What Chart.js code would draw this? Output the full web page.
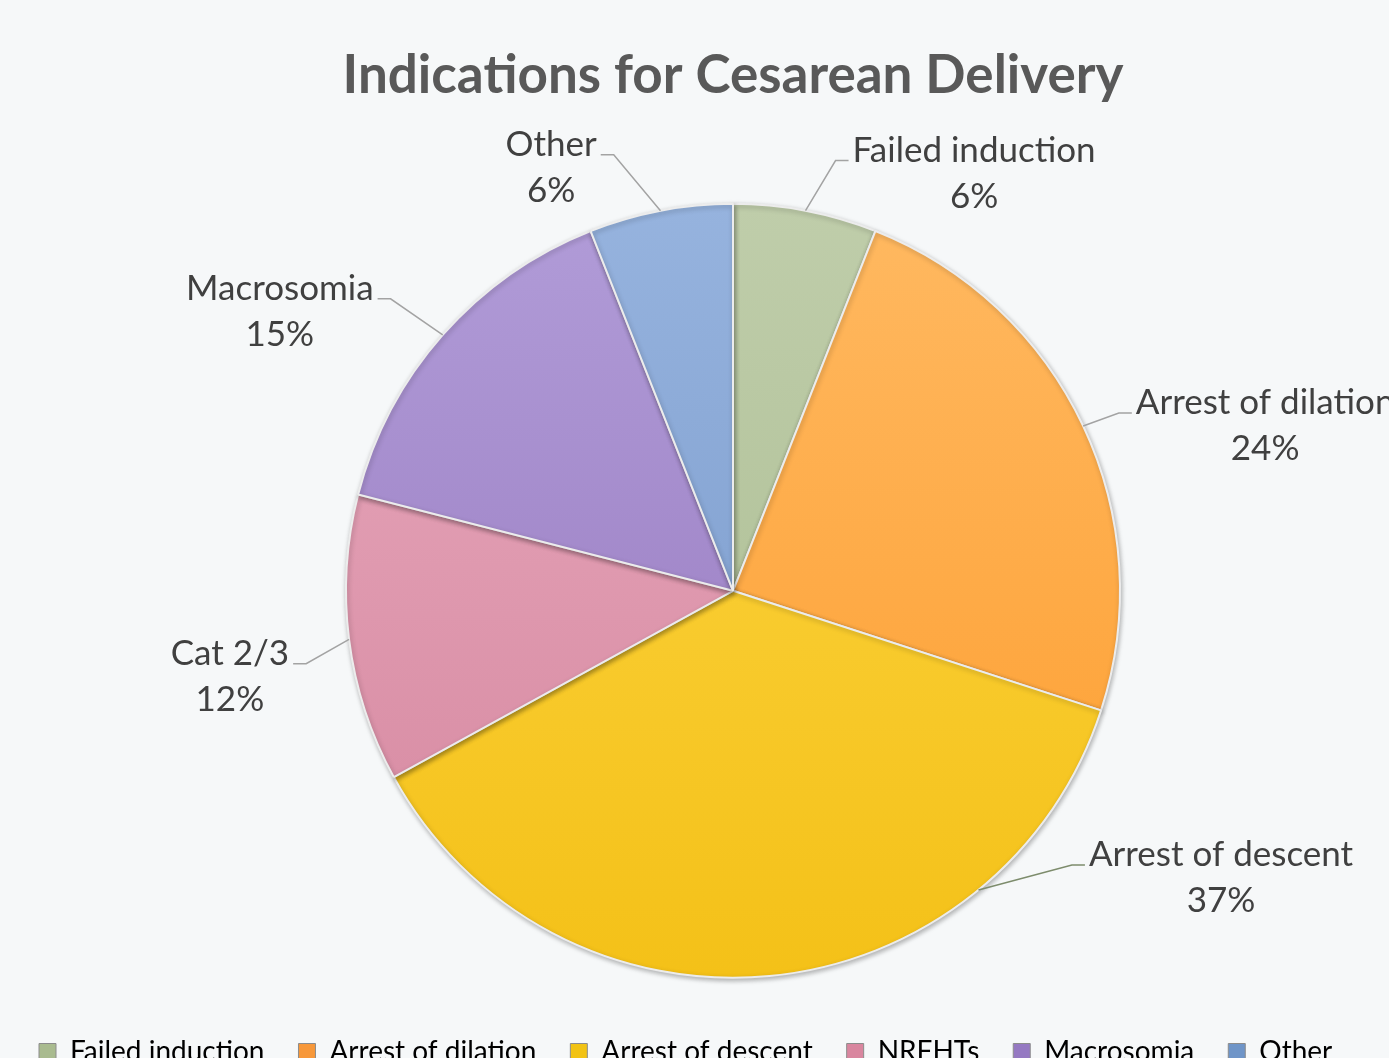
<!DOCTYPE html>
<html lang="en">
<head>
    <meta charset="UTF-8">
    <title>Indications for Cesarean Delivery</title>
    <script src="https://cdn.jsdelivr.net/npm/chart.js"></script>
    <style>
        html, body {
            margin: 0;
            padding: 0;
            overflow: hidden;
            background: #f6f8f9;
        }
        #pieChart {
            display: block;
            margin-left: -1px;
        }
    </style>
</head>
<body>
    <canvas id="pieChart" width="1462" height="1076"></canvas>

    <script>
        // chart data
        const categories = ['Failed induction', 'Arrest of dilation', 'Arrest of descent', 'NRFHTs', 'Macrosomia', 'Other'];
        const sliceLabels = ['Failed induction', 'Arrest of dilation', 'Arrest of descent', 'Cat 2/3', 'Macrosomia', 'Other'];
        const percents = [6, 24, 37, 12, 15, 6];

        // colours (top / bottom of the shaded slices)
        const topColors = ['#bfcdaa', '#ffb961', '#fdd646', '#e8a9bd', '#b19cd8', '#96b3de'];
        const bottomColors = ['#a9bb8f', '#fd9c2c', '#f4c118', '#d5879f', '#9475bc', '#7596c8'];
        const legendColors = ['#a9bb8f', '#f7983a', '#f2c314', '#d9869f', '#9579c2', '#6f95c8'];

        // where each data label sits, in pie radii from the centre
        const labelPos = [[0.623, -1.078], [1.375, -0.426], [1.261, 0.742], [-1.300, 0.222], [-1.171, -0.721], [-0.470, -1.093]];
        // where along each slice the leader line touches the rim (0 = start, 1 = end)
        const leaderAt = [0.5, 0.5, 0.245, 0.5, 0.5, 0.5];

        const PIE_RADIUS = 387;

        function sliceGradient(context) {
            const chart = context.chart;
            const area = chart.chartArea;
            const i = context.dataIndex;
            if (!area) return topColors[i];
            const cy = (area.top + area.bottom) / 2;
            const g = chart.ctx.createLinearGradient(0, cy - PIE_RADIUS, 0, cy + PIE_RADIUS);
            g.addColorStop(0, topColors[i]);
            g.addColorStop(1, bottomColors[i]);
            return g;
        }

        const pieShadow = {
            id: 'pieShadow',
            beforeDatasetDraw(chart) {
                const c = chart.ctx;
                c.save();
                c.shadowColor = 'rgba(0, 0, 0, 0.28)';
                c.shadowBlur = 5;
                c.shadowOffsetX = 1;
                c.shadowOffsetY = 2;
            },
            afterDatasetDraw(chart) {
                chart.ctx.restore();
            }
        };

        const outerLabels = {
            id: 'outerLabels',
            afterDatasetsDraw(chart) {
                const c = chart.ctx;
                const meta = chart.getDatasetMeta(0);
                const total = percents.reduce((a, b) => a + b, 0);
                c.save();
                c.font = '35px Lato';
                c.textAlign = 'center';
                c.textBaseline = 'middle';
                meta.data.forEach((arc, i) => {
                    const p = arc.getProps(['x', 'y', 'outerRadius', 'startAngle', 'endAngle'], true);
                    const a = p.startAngle + (p.endAngle - p.startAngle) * leaderAt[i];
                    const ax = p.x + Math.cos(a) * p.outerRadius;
                    const ay = p.y + Math.sin(a) * p.outerRadius;
                    const tx = p.x + labelPos[i][0] * p.outerRadius;
                    const ty = p.y + labelPos[i][1] * p.outerRadius;
                    const w = c.measureText(sliceLabels[i]).width;
                    const onRight = tx > ax;
                    const edge = onRight ? tx - w / 2 - 4 : tx + w / 2 + 4;
                    const ly = ty - 13;
                    const elbow = onRight ? edge - 13 : edge + 13;

                    c.strokeStyle = i === 2 ? '#7d8c6c' : '#a3a3a3';
                    c.lineWidth = 1.5;
                    c.beginPath();
                    c.moveTo(ax, ay);
                    c.lineTo(elbow, ly);
                    c.lineTo(edge, ly);
                    c.stroke();

                    c.fillStyle = '#404040';
                    c.fillText(sliceLabels[i], tx, ty - 23);
                    c.fillText(Math.round(percents[i] / total * 100) + '%', tx, ty + 23);
                });
                c.restore();
            }
        };

        const ctx = document.getElementById('pieChart').getContext('2d');
        const pieChart = new Chart(ctx, {
            type: 'pie',
            data: {
                labels: categories,
                datasets: [{
                    data: percents,
                    backgroundColor: sliceGradient,
                    borderColor: '#ececec',
                    borderWidth: 2,
                    radius: PIE_RADIUS
                }]
            },
            options: {
                responsive: false,
                animation: false,
                layout: { padding: { left: 6, right: 0, top: 0, bottom: 0 } },
                plugins: {
                    tooltip: { enabled: false },
                    title: {
                        display: true,
                        text: 'Indications for Cesarean Delivery',
                        color: '#595959',
                        font: { family: 'Lato', size: 53, weight: 'bold' },
                        padding: { top: 44, bottom: 70 }
                    },
                    legend: {
                        position: 'bottom',
                        align: 'start',
                        labels: {
                            color: '#595959',
                            font: { family: 'Lato', size: 28 },
                            boxWidth: 17,
                            boxHeight: 17,
                            padding: 34,
                            generateLabels(chart) {
                                return categories.map((name, i) => ({
                                    text: name,
                                    fillStyle: legendColors[i],
                                    strokeStyle: '#8c8c8c',
                                    lineWidth: 1,
                                    index: i
                                }));
                            }
                        }
                    }
                }
            },
            plugins: [pieShadow, outerLabels]
        });
    </script>
</body>
</html>
